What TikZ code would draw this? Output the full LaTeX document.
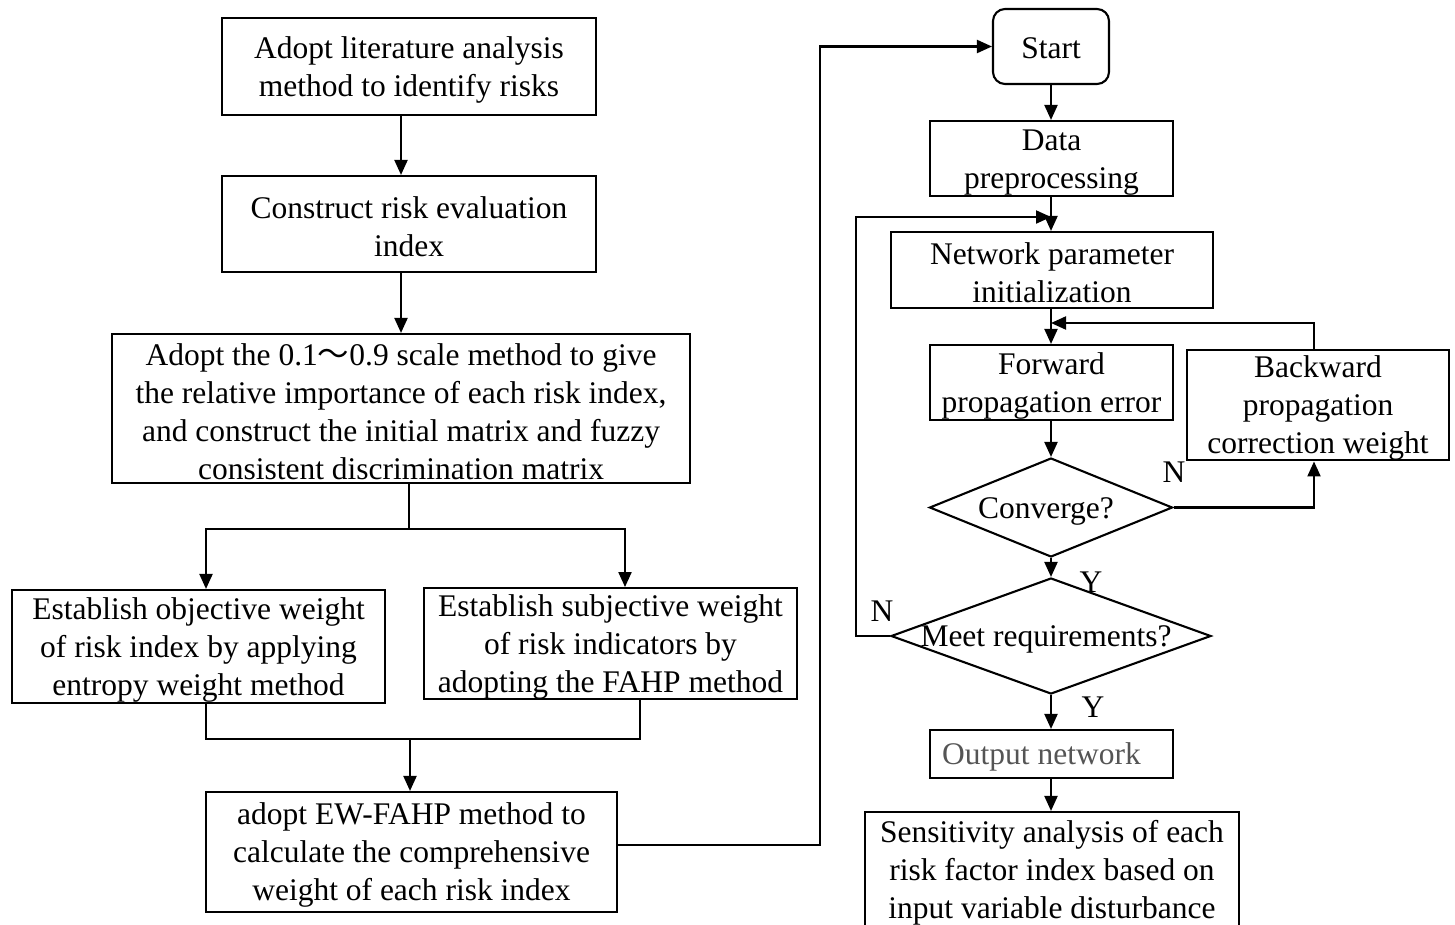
\documentclass[tikz,border=0pt]{standalone}
\usepackage{fontspec}
\setmainfont{Liberation Serif}
\newfontfamily\cjk{Noto Sans CJK SC}
\usetikzlibrary{shapes.geometric,arrows.meta}
\definecolor{txtgray}{RGB}{85,85,85}
\newcommand\mystrut{\rule{0pt}{28pt}}
\begin{document}
\begin{tikzpicture}[x=1pt,y=-1pt,
  font=\fontsize{31.5}{38}\selectfont,
  line width=2.1pt,
  box/.style={draw, rectangle, inner sep=0pt, align=center},
  diam/.style={draw, diamond, inner sep=0pt},
  arr/.style={-{Triangle[length=15pt,width=13pt]}},
  lbl/.style={inner sep=0pt},
]
\useasboundingbox (0,0) rectangle (1455,924);
\clip (0,0) rectangle (1455,924);

% left column
\node[box, minimum width=374pt, minimum height=97pt] (b1) at (409,66.5)
  {\mystrut Adopt literature analysis\\method to identify risks};
\node[box, minimum width=374pt, minimum height=96pt] (b2) at (409,224)
  {\mystrut Construct risk evaluation\\index};
\node[box, minimum width=578pt, minimum height=149pt] (b3) at (401,408.5)
  {\mystrut Adopt the 0.1{\cjk ～}0.9 scale method to give\\the relative importance of each risk index,\\and construct the initial matrix and fuzzy\\consistent discrimination matrix};
\node[box, minimum width=373pt, minimum height=113pt] (b4) at (198.5,646.5)
  {\mystrut Establish objective weight\\of risk index by applying\\entropy weight method};
\node[box, minimum width=373pt, minimum height=107pt] (b5) at (610.5,643.5)
  {\mystrut Establish subjective weight\\of risk indicators by\\adopting the FAHP method};
\node[box, minimum width=411pt, minimum height=120pt] (b6) at (411.5,852)
  {\mystrut adopt EW-FAHP method to\\calculate the comprehensive\\weight of each risk index};

% right column
\node[box, rounded corners=12pt, minimum width=116pt, minimum height=75pt] (start) at (1051,46.5) {\rule{0pt}{24pt}Start};
\node[box, minimum width=243pt, minimum height=75pt] (data) at (1051.5,158.5) {\mystrut Data\\preprocessing};
\node[box, minimum width=322pt, minimum height=76pt] (net) at (1052,270) {\mystrut Network parameter\\initialization};
\node[box, minimum width=243pt, minimum height=75pt] (fwd) at (1051.5,382.5) {\mystrut Forward\\propagation error};
\node[box, minimum width=262pt, minimum height=106pt] (bwd) at (1318,405) {\mystrut Backward\\propagation\\correction weight};
\node[diam, minimum width=243pt, minimum height=99pt] (d1) at (1051,507.5) {};
\node[lbl] (d1t) at (1046,511) {Converge?};
\node[diam, minimum width=320pt, minimum height=116pt] (d2) at (1051,636) {};
\node[lbl] (d2t) at (1046,639) {Meet requirements?};
\node[box, minimum width=243pt, minimum height=48pt, text=txtgray] (out) at (1051.5,754) {\mystrut Output network\hspace*{20pt}};
\node[box, minimum width=374pt, minimum height=116pt] (sens) at (1052,870)
  {\mystrut Sensitivity analysis of each\\risk factor index based on\\input variable disturbance};

% labels
\node[lbl] (n1) at (1174,472) {N};
\node[lbl] (y1) at (1091,582) {Y};
\node[lbl] (n2) at (882,611) {N};
\node[lbl] (y2) at (1093,707) {Y};

% left connectors
\draw[arr] ([xshift=-8pt]b1.south) -- ([xshift=-8pt]b2.north);
\draw[arr] ([xshift=-8pt]b2.south) -- (b3.north);
\coordinate (split) at (409,529);
\draw ([xshift=8pt]b3.south) -- (split);
\draw[arr] (split) -| ([xshift=7.5pt]b4.north);
\draw[arr] (split) -| ([xshift=14.5pt]b5.north);
\coordinate (merge) at (410,739);
\draw ([xshift=7.5pt]b4.south) |- (merge) -| ([xshift=29.5pt]b5.south);
\draw[arr] (merge) -- (merge |- b6.north);
\coordinate (up) at (820,845);
\draw[arr] ([yshift=7pt]b6.east) -- (up) |- (start.west);

% right connectors
\draw[arr] (start.south) -- (start.south |- data.north);
\draw[arr] (start.south |- data.south) -- (start.south |- net.north);
\draw[arr] (start.south |- net.south) -- (start.south |- fwd.north);
\draw[arr] (start.south |- fwd.south) -- (d1.north);
\draw[arr] (d1.south) -- (d2.north);
\draw[arr] (d2.south) -- (d2.south |- out.north);
\draw[arr] (d2.south |- out.south) -- (d2.south |- sens.north);
\coordinate (j1) at (1051,217);
\coordinate (lx) at (856,636);
\draw[arr] (d2.west) -- (lx) |- (j1);
\coordinate (j2) at (1051,323);
\draw[arr] ([xshift=-4pt]bwd.north) |- (j2);
\draw[arr] (d1.east) -| ([xshift=-4pt]bwd.south);
\end{tikzpicture}
\end{document}
